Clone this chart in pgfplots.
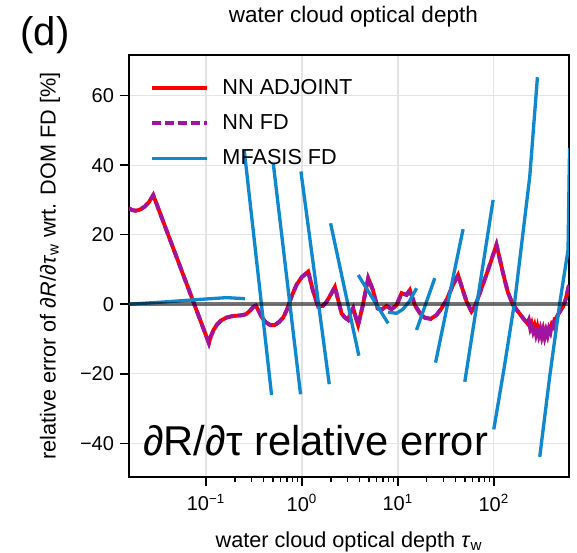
\documentclass[border=0pt]{standalone}
\usepackage{fontspec}
\setmainfont{Liberation Sans}
\newfontfamily\bigfont{Liberation Sans}
\usepackage{pgfplots}
\pgfplotsset{compat=1.18}
\definecolor{nnred}{RGB}{255,0,0}
\definecolor{nnpurple}{RGB}{160,20,160}
\definecolor{mfblue}{RGB}{16,136,206}
\begin{document}
\begin{tikzpicture}
\begin{semilogxaxis}[
  scale only axis, width=264pt, height=253.2pt,
  xmin=0.01578, xmax=608, ymin=-49.7, ymax=71.7,
  clip mode=individual,
  ytick={-40,-20,0,20,40,60}, yticklabels={−40,−20,0,20,40,60},
  xtick={0.1,1,10,100},
  xticklabels={10\textsuperscript{−1},10\textsuperscript{0},10\textsuperscript{1},10\textsuperscript{2}},
  axis line style={line width=1.2pt},
  tick style={black, line width=0.9pt},
  major tick length=5.5pt, minor tick length=3pt,
  tick align=outside, xtick pos=bottom, ytick pos=left,
  xmajorgrids, ymajorgrids, major grid style={gray!22, line width=0.8pt},
  tick label style={font=\fontsize{12}{14}\selectfont},
  xticklabel style={yshift=-1.5pt},
  label style={font=\fontsize{13}{15}\selectfont},
  xlabel={water cloud optical depth \textit{τ}\textsubscript{w}},
  ylabel={relative error of ∂\textit{R}/∂\textit{τ}\textsubscript{w} wrt. DOM FD [\%]},
  xlabel style={at={(axis description cs:0.5,-0.1659)}, anchor=base},
  ylabel style={at={(axis description cs:-0.1795,0.5)}, anchor=center},
  legend image code/.code={\draw[#1] (0pt,0pt) -- (33pt,0pt);},
  legend style={draw=none, fill=none, inner sep=0pt, at={(axis description cs:0.0477,0.838)}, anchor=west,
    font=\fontsize{13}{15}\selectfont, row sep=6.5pt,
    /tikz/every odd column/.append style={column sep=6pt}},
  legend cell align=left,
  unbounded coords=jump,
]
\pgfplotstableread{
x y
0.01578 27.6
0.0170 27.1
0.0185 26.9
0.0205 27.2
0.0230 28.1
0.0255 29.4
0.02825 31.4
0.1074 -11.2
0.112 -9.4
0.12 -7.4
0.13 -5.9
0.145 -4.6
0.165 -3.8
0.19 -3.4
0.23 -3.2
0.26 -2.9
0.285 -2.0
0.31 -0.8
0.331 -0.4
0.35 -1.6
0.38 -3.6
0.42 -5.2
0.47 -6.0
0.52 -6.0
0.58 -5.1
0.64 -3.8
0.70 -1.5
0.79 2.6
0.88 5.6
0.997 7.8
1.164 9.4
1.30 4.0
1.479 -0.7
1.65 -0.5
1.807 0.7
2.0 2.8
2.208 5.0
2.588 -2.6
2.8 -3.8
3.034 -4.5
3.2 -2.5
3.42 -1.1
3.855 -6.0
4.3 -0.5
4.909 7.5
5.495 4.1
6.166 -1.2
6.761 -1.6
7.621 -0.5
8.590 -1.4
9.683 -0.3
10.94 3.2
12.33 2.7
13.34 4.1
15.03 -0.2
17.0 -2.6
19.10 -3.9
22.0 -4.2
25.29 -3.1
28.5 -1.2
32.14 1.2
37.67 5.6
42.46 8.4
47.0 4.5
52.0 0.8
58.61 -2.1
64.0 -0.5
71.45 3.2
85.0 9.0
106.7 17.1
125.0 8.9
140.0 3.5
158.5 -0.2
177.8 -2.0
201.8 -4.0
223.9 -5.5
231.7 -4.6
239.9 -6.8
248.3 -5.6
257.0 -7.6
266.1 -6.2
275.4 -8.4
285.1 -6.6
295.1 -8.8
305.5 -7.2
316.2 -9.2
327.3 -7.4
338.8 -9.4
350.8 -7.6
363.1 -9.0
375.8 -7.0
389.0 -8.0
402.7 -5.8
416.9 -6.4
431.5 -4.2
446.7 -4.0
478.6 -2.5
527.2 -0.7
562.3 1.5
608.1 5.5
}\nntable
\addplot[nnred, line width=2.3pt] table {\nntable};
\addlegendentry{NN ADJOINT}
\addplot[nnpurple, line width=2.3pt, dash pattern=on 5pt off 2.8pt] table {\nntable};
\addlegendentry{NN FD}
\addplot[mfblue, line width=2pt] coordinates {
(0.01578,0.0) (0.03890,0.7) (0.08710,1.4) (0.1644,1.9) (0.2547,1.6) (0.2547,nan)
(0.2506,44.4) (0.4831,-26.1) (0.4831,nan)
(0.5023,40.7) (0.9683,-25.9) (0.9683,nan)
(0.9772,38.2) (1.928,-23.0) (1.928,nan)
(1.991,23.3) (3.926,-14.8) (3.926,nan)
(3.864,8.4) (7.925,-5.5) (7.925,nan)
(7.925,-2.3) (9.683,-2.6) (11.22,-1.5) (13.18,0.8) (15.67,4.6) (15.67,nan)
(15.67,-7.4) (24.27,7.5) (24.27,nan)
(24.72,-16.8) (47.86,21.6) (47.86,nan)
(49.89,-22.3) (98.4,30.0) (98.4,nan)
(100,-36.0) (128.8,-18.0) (166.0,1.2) (237.1,36.7) (285.1,65.3) (285.1,nan)
(301.3,-43.9) (382.8,-20.8) (487.0,0.3) (594.3,15.6) (616.6,45)
};
\addlegendentry{MFASIS FD}
\addplot[black, opacity=0.55, line width=2.4pt, forget plot] coordinates {(0.01,0) (1000,0)};
\node[anchor=base west, inner sep=0pt, font=\bigfont\fontsize{25}{27}\selectfont] at (axis description cs:0.0318,0.0521) {∂R/∂τ relative error};
\node[anchor=center, font=\fontsize{13.5}{15}\selectfont] at (axis description cs:0.51,1.090) {water cloud optical depth};
\node[anchor=center, font=\fontsize{24}{26}\selectfont] at (axis description cs:-0.191,1.047) {(d)};
\end{semilogxaxis}
\pgfresetboundingbox
\path[use as bounding box] ([xshift=-77.4pt,yshift=-45pt]current axis.south west) rectangle ([xshift=4.8pt,yshift=33pt]current axis.north east);
\end{tikzpicture}
\end{document}
